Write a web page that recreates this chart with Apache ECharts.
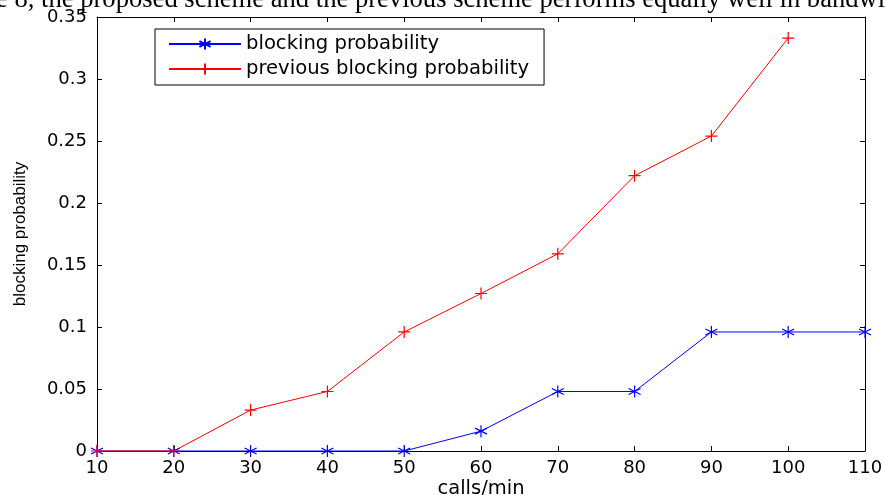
<!DOCTYPE html>
<html>
<head>
<meta charset="utf-8">
<script src="https://cdn.jsdelivr.net/npm/echarts@6/dist/echarts.min.js"></script>
<style>
html,body{margin:0;padding:0;background:#fff;}
#chart{width:885px;height:495px;}
</style>
</head>
<body>
<div id="chart"></div>
<script>
var callsPerMin = [10, 20, 30, 40, 50, 60, 70, 80, 90, 100, 110];
var blockingProb = [0, 0, 0, 0, 0, 0.016, 0.048, 0.048, 0.096, 0.096, 0.096];
var prevCallsPerMin = [10, 20, 30, 40, 50, 60, 70, 80, 90, 100];
var prevBlockingProb = [0, 0, 0.033, 0.048, 0.096, 0.127, 0.159, 0.222, 0.254, 0.333];
var seriesNames = ['blocking probability', 'previous blocking probability'];
var xTitle = 'calls/min';
var yTitle = 'blocking probability';
var captionText = 'e 8, the proposed scheme and the previous scheme performs equally well in bandwidth';

function pairs(xs, ys) { return xs.map(function (x, i) { return [x, ys[i]]; }); }

var plusPath = 'path://M0,5L10,5M5,0L5,10';
var starPath = 'path://M5,0L5,10M0.7,2.5L9.3,7.5M0.7,7.5L9.3,2.5';

var chart = echarts.init(document.getElementById('chart'), null, {renderer: 'canvas'});
var lineAx = {show: true, onZero: false, lineStyle: {color: '#000', width: 1}};
var tickIn = {show: true, inside: true, length: 5, lineStyle: {color: '#000', width: 1}};
var tickFont = {color: '#000', fontFamily: 'DejaVu Sans', fontSize: 18};

chart.setOption({
  animation: false,
  backgroundColor: '#fff',
  grid: {left: 97, right: 20, top: 17, bottom: 44, containLabel: false, outerBoundsMode: 'none'},
  graphic: [{
    type: 'text', left: -4, top: -13, silent: true,
    style: {text: captionText, font: '26.6px "Liberation Serif"', fill: '#000'}
  }],
  legend: {
    left: 155, top: 29,
    orient: 'vertical',
    data: seriesNames,
    borderColor: '#000', borderWidth: 1,
    padding: [5, 15, 6, 13],
    itemWidth: 72, itemHeight: 14, itemGap: 5,
    textStyle: {color: '#000', fontFamily: 'DejaVu Sans', fontSize: 19.6}
  },
  xAxis: [{
    type: 'value', min: 10, max: 110, interval: 10, position: 'bottom',
    axisLine: lineAx, axisTick: tickIn, splitLine: {show: false},
    axisLabel: Object.assign({margin: 8}, tickFont),
    name: xTitle, nameLocation: 'middle', nameGap: 28, nameMoveOverlap: false,
    nameTextStyle: {color: '#000', fontFamily: 'DejaVu Sans', fontSize: 19.5}
  }, {
    type: 'value', min: 10, max: 110, interval: 10, position: 'top',
    axisLine: lineAx, axisTick: tickIn, splitLine: {show: false},
    axisLabel: {show: false}
  }],
  yAxis: [{
    type: 'value', min: 0, max: 0.35, interval: 0.05, position: 'left',
    axisLine: lineAx, axisTick: tickIn, splitLine: {show: false},
    axisLabel: Object.assign({margin: 10, formatter: function (v) { return String(+v.toFixed(2)); }}, tickFont),
    name: yTitle, nameLocation: 'middle', nameGap: 68, nameRotate: 90, nameMoveOverlap: false,
    nameTextStyle: {color: '#000', fontFamily: 'Liberation Sans', fontSize: 17}
  }, {
    type: 'value', min: 0, max: 0.35, interval: 0.05, position: 'right',
    axisLine: lineAx, axisTick: tickIn, splitLine: {show: false},
    axisLabel: {show: false}
  }],
  series: [{
    name: seriesNames[0], type: 'line', xAxisIndex: 0, yAxisIndex: 0,
    data: pairs(callsPerMin, blockingProb),
    symbol: starPath, symbolSize: 12, showAllSymbol: true, clip: false,
    color: '#0000ff',
    lineStyle: {color: '#0000ff', width: 1},
    itemStyle: {color: 'rgba(0,0,0,0)', borderColor: '#0000ff', borderWidth: 1.2}
  }, {
    name: seriesNames[1], type: 'line', xAxisIndex: 0, yAxisIndex: 0,
    data: pairs(prevCallsPerMin, prevBlockingProb),
    symbol: plusPath, symbolSize: 12, showAllSymbol: true, clip: false,
    color: '#ff0000',
    lineStyle: {color: '#ff0000', width: 1},
    itemStyle: {color: 'rgba(0,0,0,0)', borderColor: '#ff0000', borderWidth: 1.2}
  }]
});
</script>
</body>
</html>
